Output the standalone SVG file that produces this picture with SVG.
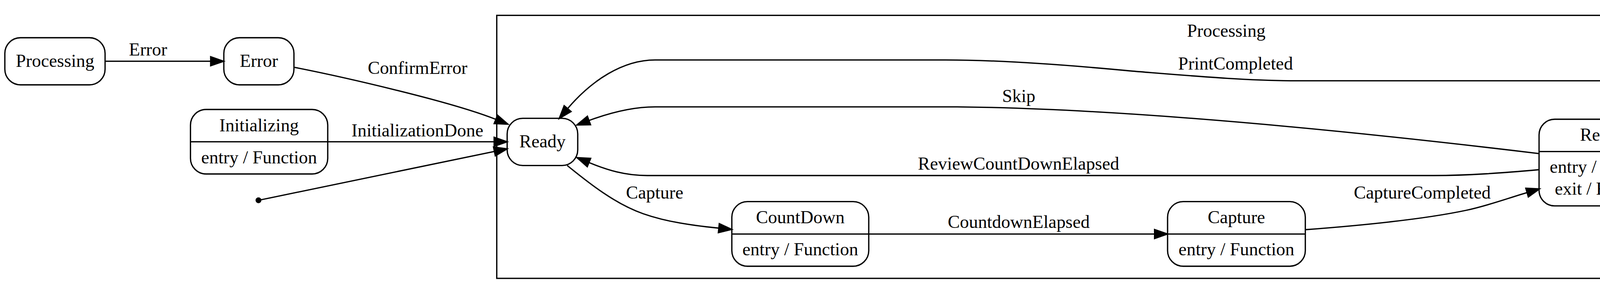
<svg xmlns="http://www.w3.org/2000/svg" width="5047" height="752" viewBox="0 0 5047 752">
<style>
.bg{fill:#fff}
.box{fill:none;stroke:#000;stroke-width:3.3}
.sep{stroke:#000;stroke-width:3.3}
.edge{fill:none;stroke:#000;stroke-width:3.3;marker-end:url(#ah)}
text{font-family:"Liberation Serif","Times New Roman",serif;font-size:46.4px;fill:#000;text-anchor:middle}
</style>
<defs>
<marker id="ah" markerUnits="userSpaceOnUse" markerWidth="42" markerHeight="32" viewBox="-4 -16 42 32" refX="0" refY="0" orient="auto" overflow="visible">
<path d="M0,-11.6 L33.3,0 L0,11.6 Z" fill="#000" stroke="#000" stroke-width="3.3"/>
</marker>
</defs>
<rect class="bg" x="0" y="0" width="5047" height="752"/>
<g id="cluster_Processing">
<rect class="box" x="1271.7" y="39.3" width="3735.1" height="672.7"/>
<text x="3139.3" y="93.5">Processing</text>
</g>
<g id="node_Processing">
<rect class="box" x="12.4" y="96.5" width="256.6" height="120.5" rx="40" ry="40"/>
<text x="141" y="170.5">Processing</text>
</g>
<g id="node_Error">
<rect class="box" x="573" y="96.5" width="179.5" height="120.5" rx="40" ry="40"/>
<text x="662.7" y="170.5">Error</text>
</g>
<g id="node_Initializing">
<rect class="box" x="487.6" y="280" width="351.4" height="165" rx="40" ry="40"/>
<line class="sep" x1="487.6" y1="362.7" x2="839" y2="362.7"/>
<text x="663.3" y="335.5">Initializing</text>
<text x="663.3" y="417.5">entry / Function</text>
</g>
<g id="node_initial">
<circle cx="661.7" cy="512.2" r="6.5" fill="#000" stroke="#000" stroke-width="2"/>
</g>
<g id="node_Ready">
<rect class="box" x="1298.3" y="302.7" width="180.7" height="120.6" rx="40" ry="40"/>
<text x="1388.7" y="377">Ready</text>
</g>
<g id="node_CountDown">
<rect class="box" x="1873.5" y="515.6" width="350.5" height="165.4" rx="40" ry="40"/>
<line class="sep" x1="1873.5" y1="598.6" x2="2224" y2="598.6"/>
<text x="2048.7" y="571">CountDown</text>
<text x="2048.7" y="653">entry / Function</text>
</g>
<g id="node_Capture">
<rect class="box" x="2989" y="515.6" width="352.6" height="165.4" rx="40" ry="40"/>
<line class="sep" x1="2989" y1="598.6" x2="3341.6" y2="598.6"/>
<text x="3165.3" y="571">Capture</text>
<text x="3165.3" y="653">entry / Function</text>
</g>
<g id="node_Review">
<rect class="box" x="3940" y="305" width="351" height="221.7" rx="40" ry="40"/>
<line class="sep" x1="3940" y1="387.7" x2="4291" y2="387.7"/>
<text x="4115.5" y="360">Review</text>
<text x="4115.5" y="442.3">entry / Function</text>
<text x="4115.5" y="498">exit / Function</text>
</g>
<g id="node_Print">
<rect class="box" x="4629" y="223.3" width="351" height="165.5" rx="40" ry="40"/>
<line class="sep" x1="4629" y1="306" x2="4980" y2="306"/>
<text x="4804.5" y="279">Print</text>
<text x="4804.5" y="361">entry / Function</text>
</g>
<g id="connectors">
<path class="edge" d="M269,156.7 L539.3,156.7"/>
<text x="379" y="141.7">Error</text>
<path class="edge" d="M752.5,172 C870,195 1150,258 1269.3,305.3"/>
<text x="1069" y="189">ConfirmError</text>
<path class="edge" d="M839,362.7 L1265,362.7"/>
<text x="1068.5" y="349">InitializationDone</text>
<path class="edge" d="M668,511 L1265.7,387.4"/>
<path class="edge" d="M4628.3,234.5 C4575,213 4530,206.7 4466,206.7 L3330,206.7 C3190,206.7 3050,194 2900,182 C2700,163 2550,153.3 2420,153.3 L1677,153.3 C1595,153.3 1515,205 1453.1,277.8"/>
<text x="3163" y="177.5">PrintCompleted</text>
<path class="edge" d="M3940,392.8 C3500,340 2900,278 2450,273.3 L1677,273.3 C1620,273.3 1565,287 1507.8,308.2"/>
<text x="2608" y="261">Skip</text>
<path class="edge" d="M3940,434 C3850,442 3760,449 3670,449 L1657,449 C1600,449 1555,435 1507.8,415.8"/>
<text x="2607.5" y="434">ReviewCountDownElapsed</text>
<path class="edge" d="M1452,423.3 C1510.2,470.6 1575.9,522 1646.7,546.7 C1708.1,568.2 1775.5,577 1840.2,583.5"/>
<text x="1676" y="507.7">Capture</text>
<path class="edge" d="M2224,598.6 L2955.7,598.6"/>
<text x="2608" y="582.7">CountdownElapsed</text>
<path class="edge" d="M3341.6,587.5 C3480,577 3640,562 3753,538 C3810,526 3860,507 3909.3,492.6"/>
<text x="3641" y="507.7">CaptureCompleted</text>
<path class="edge" d="M4291.7,387.5 L4598.8,338.5"/>
<text x="4461" y="341.7">Print</text>
</g>
</svg>
